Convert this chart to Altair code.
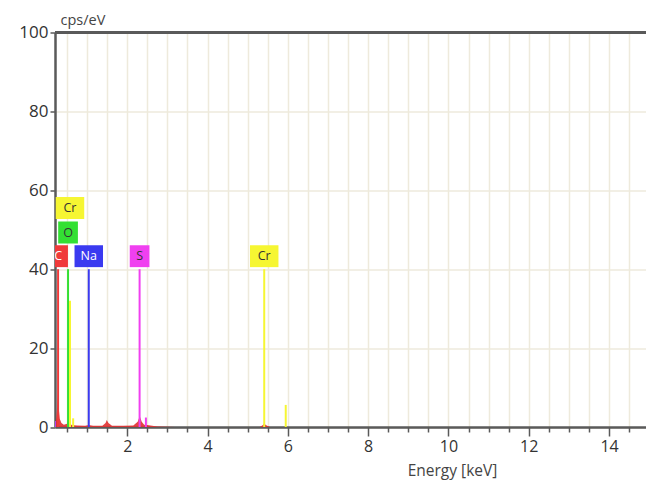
import altair as alt
import pandas as pd

# ---- data ----
label_text = ["C", "O", "Cr", "Na", "S", "Cr"]
label_energy = [0.277, 0.525, 0.573, 1.041, 2.307, 5.411]
label_level = [43.3, 49.3, 55.5, 43.3, 43.3, 43.3]
label_color = ["#f03a3a", "#33e033", "#f6f632", "#3a3af0", "#f040f0", "#f6f632"]

line_energy = [0.277, 0.525, 0.573, 1.041, 2.307, 5.411, 5.947, 2.464, 0.652, 0.20]
line_height = [40, 40, 32, 40, 40, 40, 5.6, 2.4, 2.2, 1.5]
line_color = ["#f03a3a", "#33e033", "#f6f632", "#3a3af0", "#f040f0", "#f6f632",
              "#f6f632", "#f040f0", "#f6f632", "#b040f0"]

spec_energy = [0.20, 0.23, 0.26, 0.277, 0.29, 0.32, 0.36, 0.42, 0.50, 0.525, 0.56,
               0.62, 0.75, 0.95, 1.04, 1.15, 1.38, 1.46, 1.49, 1.53, 1.62, 1.90,
               2.15, 2.26, 2.31, 2.36, 2.42, 2.50, 2.62, 2.75, 3.20, 5.30, 5.38,
               5.41, 5.45, 5.55, 6.50, 14.92]
spec_counts = [0.5, 2, 6, 9, 5, 2, 1.0, 0.6, 0.8, 1.2, 0.8,
               0.5, 0.4, 0.3, 0.5, 0.3, 0.3, 1.0, 1.8, 1.0, 0.3, 0.3,
               0.4, 1.3, 2.8, 1.3, 0.6, 0.5, 0.3, 0.1, 0, 0, 0.5,
               0.9, 0.5, 0, 0, 0]

x_domain = [0.2, 14.92]
y_domain = [0, 100]

# ---- tables ----
dark_bg = {"#f03a3a", "#3a3af0"}
labels = pd.DataFrame({
    "text": label_text,
    "energy": label_energy,
    "value": label_level,
    "color": label_color,
})
labels["textcolor"] = ["#ffffff" if c in dark_bg else "#333333" for c in label_color]
labels["shape"] = [
    "M-{w},-1H{w}V1H-{w}Z".format(w=round((10 + 8 * len(t)) / 20, 3)) for t in label_text
]

lines = pd.DataFrame({"energy": line_energy, "value": line_height, "base": 0.0,
                      "color": line_color})
spec = pd.DataFrame({"energy": spec_energy, "value": spec_counts})

grid_col = "#eeeadc"
axis_col = "#5a5a5a"

x_axis = alt.Axis(
    values=[i * 0.5 for i in range(1, 30)],
    labelExpr="datum.value % 2 == 0 ? format(datum.value, 'd') : ''",
    tickSize={"condition": {"test": "datum.value % 2 == 0", "value": 9}, "value": 5},
    tickColor=axis_col, tickWidth=1.5,
    domainColor=axis_col, domainWidth=2.5,
    gridColor=grid_col, gridWidth=1.5,
    labelFont="Open Sans", labelFontSize=16, labelColor="#333333", labelPadding=2,
    labelFlush=False,
    title="Energy [keV]", titleFont="Open Sans", titleFontSize=15.5,
    titleFontWeight="normal", titleColor="#444444",
    titleX=397, titleY=48, titleAlign="center", titleBaseline="alphabetic",
    titleAnchor="start",
)
y_axis = alt.Axis(
    values=list(range(0, 101, 5)),
    labelExpr="datum.value % 20 == 0 ? format(datum.value, 'd') : ''",
    tickSize=5, tickColor=axis_col, tickWidth=1.5,
    domainColor=axis_col, domainWidth=2.5,
    gridColor=grid_col, gridWidth=1.5,
    labelFont="Open Sans", labelFontSize=17, labelColor="#333333", labelPadding=2,
    labelFlush=False,
    title="cps/eV", titleFont="Open Sans", titleFontSize=14.5,
    titleFontWeight="normal", titleColor="#444444",
    titleAngle=0, titleX=5, titleY=-8, titleAlign="left",
    titleBaseline="alphabetic", titleAnchor="start",
)

X = alt.X("energy:Q", scale=alt.Scale(domain=x_domain, nice=False, zero=False), axis=x_axis)
Y = alt.Y("value:Q", scale=alt.Scale(domain=y_domain, nice=False), axis=y_axis)

spectrum = alt.Chart(spec).mark_area(color="#e03030", opacity=0.9, clip=True,
                                     interpolate="linear").encode(x=X, y=Y)

markers = alt.Chart(lines).mark_rule(strokeWidth=2, clip=True).encode(
    x=X, y=Y, y2="base:Q", color=alt.Color("color:N", scale=None)
)

boxes = alt.Chart(labels).mark_point(filled=True, size=480, opacity=1,
                                     strokeWidth=0, clip=True).encode(
    x=X, y=Y,
    shape=alt.Shape("shape:N", scale=None),
    color=alt.Color("color:N", scale=None),
)

texts = alt.Chart(labels).mark_text(font="Open Sans", fontSize=12.5, clip=True,
                                    baseline="middle", align="center").encode(
    x=X, y=Y, text="text:N", color=alt.Color("textcolor:N", scale=None)
)

top_border = alt.Chart(spec).mark_rule(color=axis_col, strokeWidth=2.5).encode(
    y=alt.datum(100)
)

chart = alt.layer(spectrum, markers, boxes, texts, top_border).properties(
    width=591, height=394.5,
    autosize=alt.AutoSizeParams(type="none"),
    padding={"left": 47, "top": 24.5, "right": 0, "bottom": 54},
    background="#ffffff",
).configure_view(stroke=None)

chart.save("out.html", embed_options={"renderer": "svg", "actions": False})
